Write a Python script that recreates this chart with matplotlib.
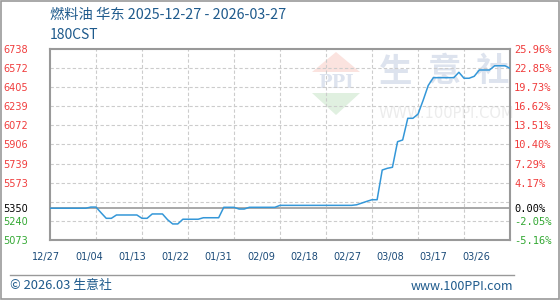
import numpy as np
import matplotlib
matplotlib.use("Agg")
import matplotlib.pyplot as plt
from matplotlib.patches import Polygon, Rectangle
from matplotlib.lines import Line2D

plt.rcParams['font.family'] = ['Noto Sans CJK SC', 'DejaVu Sans']

# daily price, 2025-12-27 .. 2026-03-27 (day 0 .. 90)
prices = [5350, 5350, 5350, 5350, 5350, 5350, 5350, 5350, 5360, 5360,
          5310, 5262, 5262, 5291, 5291, 5291, 5291, 5291, 5262, 5262,
          5300, 5300, 5300, 5250, 5213, 5213, 5254, 5254, 5254, 5254,
          5267, 5267, 5267, 5267, 5358, 5358, 5358, 5343, 5343, 5358,
          5358, 5358, 5358, 5358, 5358, 5375, 5375, 5375, 5375, 5375,
          5375, 5375, 5375, 5375, 5375, 5375, 5375, 5375, 5375, 5375,
          5380, 5395, 5410, 5424, 5424, 5683, 5698, 5707, 5930, 5945,
          6134, 6134, 6170, 6290, 6420, 6488, 6488, 6488, 6488, 6488,
          6535, 6483, 6483, 6500, 6555, 6555, 6555, 6592, 6592, 6592,
          6570]
base = 5350
left_ticks = [6738, 6572, 6405, 6239, 6072, 5906, 5739, 5573, 5350, 5240, 5073]
right_labels = ["25.96%", "22.85%", "19.73%", "16.62%", "13.51%", "10.40%",
                "7.29%", "4.17%", "0.00%", "-2.05%", "-5.16%"]
extra_grid = [5407]
date_labels = ["12/27", "01/04", "01/13", "01/22", "01/31", "02/09",
               "02/18", "02/27", "03/08", "03/17", "03/26"]

blue_txt = "#1e5a8c"
red = "#f03c3c"
green = "#33a833"

def tick_color(v):
    if v > base:
        return red
    if v < base:
        return green
    return "black"

fig = plt.figure(figsize=(5.6, 3.0), dpi=100)
ax = fig.add_axes([50/560, 60/300, 460/560, 191/300])
ax.set_xlim(0, 90)
ax.set_ylim(5073, 6738)

# watermark (axes fraction)
def fx(px): return (px - 50) / 460
def fy(py): return (240 - py) / 191
wm = "#dde3ee"
ax.add_patch(Polygon([(fx(312), fy(72)), (fx(360), fy(72)), (fx(336), fy(52))],
                     closed=True, transform=ax.transAxes, color="#fbe3df", lw=0, zorder=0.1))
ax.add_patch(Polygon([(fx(312), fy(93)), (fx(360), fy(93)), (fx(336), fy(115))],
                     closed=True, transform=ax.transAxes, color="#e0f0e0", lw=0, zorder=0.1))
ax.text(fx(336), fy(83), "PPI", transform=ax.transAxes, ha="center", va="center",
        fontsize=13, fontweight="bold", color=wm, family="DejaVu Serif", zorder=0.1)
for ch, cx in zip(["生", "意", "社"], [396, 444, 492]):
    ax.text(fx(cx), fy(72), ch, transform=ax.transAxes, ha="center", va="center",
            fontsize=24, fontweight="bold", color=wm, zorder=0.1)
ax.text(fx(446), fy(113), "WWW.100PPI.COM", transform=ax.transAxes, ha="center",
        va="center", fontsize=10.5, color="#ececec", family="DejaVu Sans", zorder=0.1)

# grid
for v in left_ticks[1:-1] + extra_grid:
    if v == base:
        ax.axhline(v, color="#999999", lw=1.2, zorder=1)
    else:
        ax.axhline(v, color="#cccccc", lw=0.8, ls=(0, (3, 2)), zorder=1)
for d in range(9, 90, 9):
    ax.axvline(d, color="#cccccc", lw=0.8, ls=(0, (3, 2)), zorder=1)

ax.plot(np.arange(len(prices)), prices, color="#3497d8", lw=1.1, zorder=3)

for s in ax.spines.values():
    s.set_color("#999999")
    s.set_linewidth(1.5)

ax.set_xticks([])
ax.set_yticks(left_ticks)
ax.set_yticklabels([str(v) for v in left_ticks], family="DejaVu Sans", fontsize=7)
ax.tick_params(axis="y", length=0, pad=16)
for lab, v in zip(ax.get_yticklabels(), left_ticks):
    lab.set_color(tick_color(v))

ax2 = ax.twinx()
ax2.set_ylim(ax.get_ylim())
ax2.set_yticks(left_ticks)
ax2.set_yticklabels(right_labels, family="DejaVu Sans Mono", fontsize=7.5)
ax2.tick_params(axis="y", length=0, pad=3)
for lab, v in zip(ax2.get_yticklabels(), left_ticks):
    lab.set_color(tick_color(v))
for s in ax2.spines.values():
    s.set_visible(False)

# date labels, evenly spread under the axis
for i, lab in enumerate(date_labels):
    ax.text(fx(46 + 43 * i), fy(257), lab, transform=ax.transAxes, ha="center",
            va="center", fontsize=7, color="#1a4a78", family="DejaVu Sans")

# header / footer
fig.text(50/560, 1 - 15/300, "燃料油 华东 2025-12-27 - 2026-03-27", fontsize=10.3,
         color=blue_txt, va="center")
fig.text(50/560, 1 - 35/300, "180CST", fontsize=10, color=blue_txt, va="center")
fig.add_artist(Line2D([10/560, 514/560], [1 - 275/300, 1 - 275/300],
                      color="#999999", lw=1))
fig.text(10/560, 1 - 286/300, "© 2026.03 生意社", fontsize=9.3, color=blue_txt, va="center")
fig.text(513/560, 1 - 286/300, "www.100PPI.com", fontsize=9, color=blue_txt,
         va="center", ha="right")
fig.add_artist(Rectangle((0.001, 0.002), 0.997, 0.995, fill=False,
                         edgecolor="#999999", lw=1.2, transform=fig.transFigure))

fig.savefig("out.png", dpi=100)
